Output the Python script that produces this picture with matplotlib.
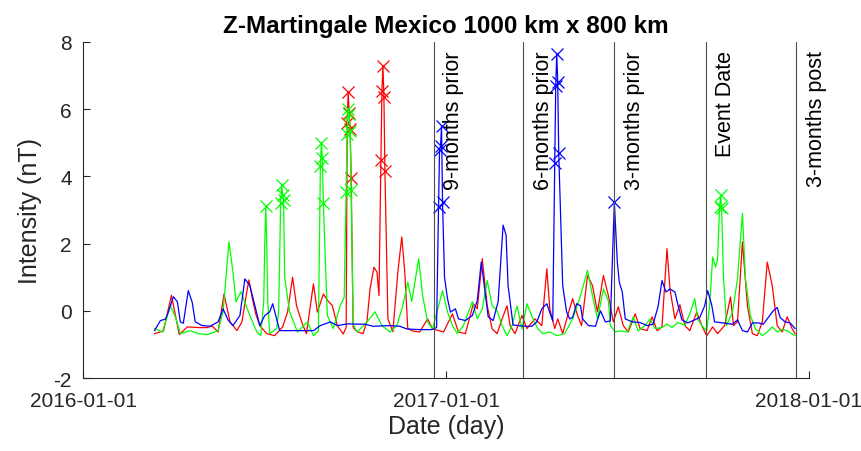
import numpy as np
import pandas as pd
import matplotlib
matplotlib.use('Agg')
import matplotlib.pyplot as plt
import matplotlib.dates as mdates

plt.rcParams['font.family'] = ['Liberation Sans', 'DejaVu Sans']
plt.rcParams['axes.unicode_minus'] = False

# day numbers counted from 2016-01-01, values in nT
startDate = pd.Timestamp('2016-01-01')
eventDate = pd.Timestamp('2017-09-19')
threshold = 3.0

redDay = [72, 81, 89, 97, 105, 118, 125, 130, 136, 142, 148, 155, 160, 164, 167,
          171, 174, 178, 185, 193, 201, 206, 211, 215, 221, 225, 232, 236, 242,
          247, 251, 256, 262, 265, 266, 267, 268, 269, 270, 272, 276, 282, 286,
          289, 293, 296, 298, 300, 301, 302, 303, 304, 307, 312, 317, 321, 324,
          327, 332, 339, 347, 352, 363, 372, 378, 385, 393, 397, 402, 407, 412,
          417, 422, 427, 430, 435, 442, 447, 455, 462, 467, 470, 475, 478, 483,
          488, 493, 498, 502, 508, 513, 518, 524, 529, 534, 539, 544, 549, 556,
          561, 568, 573, 578, 583, 588, 591, 596, 601, 606, 611, 618, 623, 628,
          634, 639, 646, 652, 655, 659, 664, 669, 674, 679, 684, 689, 694, 699,
          704, 709, 714, 717]
redVal = [-0.68, -0.6, 0.46, -0.71, -0.48, -0.5, -0.5, -0.45, -0.63, 0.5, -0.33,
          -0.59, -0.33, 0.4, 0.92, 0.3, -0.1, -0.44, -0.68, -0.74, -0.48, -0.04,
          1.0, 0.15, -0.4, -0.68, 0.8, -0.04, 0.5, 0.28, 0.16, -0.44, -0.69,
          -0.5, 5.6, 6.5, 5.9, 5.4, 3.95, -0.5, -0.62, -0.68, -0.3, 0.65, 1.3,
          1.15, 0.45, 4.5, 6.55, 7.3, 6.35, 4.15, -0.24, -0.62, 1.15, 2.2, 1.15,
          -0.53, -0.6, -0.63, -0.24, -0.54, -0.63, -0.09, -0.63, -0.68, 0.21,
          0.06, 1.55, 0.15, -0.54, -0.68, -0.24, 0.15, -0.44, -0.68, -0.14,
          -0.53, -0.24, -0.44, 1.25, 0.06, -0.53, -0.24, -0.68, -0.14, 0.36,
          -0.14, -0.44, 1.05, 0.75, -0.03, 1.05, 0.45, -0.33, 0.12, -0.44, -0.63,
          -0.09, -0.53, -0.59, -0.18, -0.59, -0.48, 1.85, 0.65, -0.24, 0.18,
          -0.44, -0.59, -0.04, -0.44, -0.74, -0.48, -0.68, -0.44, 0.41, -0.44,
          -0.33, 2.05, 0.15, -0.68, -0.74, -0.33, 1.45, 0.75, -0.44, -0.63,
          -0.18, -0.53, -0.68]

greenDay = [72, 80, 88, 93, 98, 108, 116, 125, 136, 141, 147, 151, 154, 159, 168,
            175, 179, 182, 183, 184, 185, 186, 188, 195, 197, 199, 200, 201, 202,
            203, 208, 216, 226, 232, 237, 239, 240, 241, 242, 246, 252, 259, 263,
            265, 266, 267, 268, 269, 270, 272, 276, 286, 294, 301, 309, 316, 322,
            327, 331, 338, 342, 347, 352, 362, 367, 372, 377, 383, 392, 397, 402,
            407, 412, 417, 422, 427, 432, 437, 442, 447, 453, 458, 463, 470, 477,
            485, 493, 500, 508, 513, 518, 524, 529, 531, 536, 541, 548, 554, 559,
            566, 571, 576, 583, 588, 593, 599, 606, 611, 616, 619, 623, 628, 631,
            634, 637, 639, 641, 642, 643, 645, 648, 654, 659, 664, 667, 672, 677,
            684, 689, 694, 699, 704, 709, 717]
greenVal = [-0.53, -0.63, 0.15, -0.18, -0.68, -0.59, -0.68, -0.71, -0.59, -0.03,
            2.05, 1.15, 0.27, 0.57, -0.14, -0.63, -0.74, 0.3, 2.0, 3.12, 2.0,
            0.3, -0.68, -0.53, 0.0, 3.2, 3.75, 3.45, 3.3, 1.0, -0.03, -0.63,
            -0.33, -0.74, -0.6, 4.3, 5.0, 4.55, 3.2, -0.14, -0.53, 0.15, 0.4,
            3.55, 5.25, 6.0, 5.85, 5.35, 3.6, -0.4, -0.63, -0.33, -0.03, -0.44,
            -0.63, -0.44, 0.15, 0.86, 0.27, 1.55, 0.45, -0.33, -0.54, 0.6, -0.03,
            -0.44, -0.68, -0.44, 0.27, -0.24, 0.06, 0.9, 0.15, 0.0, -0.44, -0.74,
            -0.44, 0.15, -0.54, 0.21, -0.24, -0.53, -0.68, -0.63, -0.74, -0.68,
            -0.24, 0.36, 1.2, 0.45, -0.24, 0.65, 0.3, -0.44, -0.63, -0.6, -0.63,
            -0.18, -0.6, -0.43, -0.24, -0.53, -0.5, -0.39, -0.5, -0.35, -0.43,
            -0.09, 0.36, -0.25, -0.44, -0.6, 0.15, 1.6, 1.3, 1.55, 3.1, 3.45,
            3.05, 0.95, -0.44, -0.04, 0.95, 2.9, 0.95, -0.14, -0.53, -0.74, -0.63,
            -0.48, -0.63, -0.55, -0.6, -0.74]

blueDay = [72, 78, 83, 86, 91, 95, 98, 101, 106, 110, 113, 120, 128, 136, 141,
           146, 151, 158, 163, 168, 173, 178, 183, 188, 191, 195, 198, 219, 232,
           239, 249, 256, 266, 284, 292, 309, 319, 326, 339, 351, 356, 358, 359,
           360, 361, 362, 364, 367, 370, 375, 378, 385, 392, 397, 401, 404, 408,
           413, 418, 423, 426, 428, 433, 438, 445, 452, 457, 462, 467, 473, 475,
           476, 477, 478, 479, 483, 487, 490, 493, 497, 501, 503, 509, 516, 521,
           526, 531, 535, 538, 540, 543, 546, 553, 561, 568, 574, 579, 583, 587,
           591, 596, 599, 603, 609, 616, 621, 626, 629, 633, 636, 644, 654, 659,
           664, 669, 674, 680, 685, 690, 695, 699, 702, 707, 712, 717]
blueVal = [-0.59, -0.29, -0.25, -0.03, 0.42, 0.27, -0.33, -0.37, 0.6, 0.25, -0.33,
           -0.44, -0.46, -0.33, 0.06, -0.27, -0.44, -0.14, 0.95, 0.75, 0.16,
           -0.44, -0.14, -0.03, 0.21, -0.25, -0.59, -0.59, -0.59, -0.44, -0.33,
           -0.44, -0.39, -0.4, -0.46, -0.44, -0.46, -0.54, -0.56, -0.56, -0.5,
           3.1, 4.8, 4.9, 5.5, 3.25, 1.0, 0.36, -0.04, 0.06, -0.24, -0.29, -0.14,
           0.3, 1.45, 0.75, -0.18, -0.29, 0.27, 2.55, 2.25, 0.75, -0.42, -0.44,
           -0.46, -0.46, -0.33, 0.06, 0.21, -0.3, 4.4, 6.7, 7.65, 6.8, 4.7, 0.75,
           -0.04, -0.24, -0.2, 0.21, 0.15, -0.24, -0.44, -0.46, 0.0, -0.33, -0.3,
           3.24, 1.45, 0.85, 0.56, -0.24, -0.33, -0.35, -0.44, -0.4, 0.12, 0.9,
           0.56, 0.65, 0.56, 0.18, -0.27, -0.36, -0.27, -0.2, 0.15, 0.6, 0.18,
           -0.33, -0.36, -0.4, -0.27, -0.59, -0.63, -0.36, -0.36, -0.4, -0.2, 0.0,
           0.1, -0.2, -0.33, -0.36, -0.53]

markMonths = [-9, -6, -3, 0, 3]
markNames = ['9-months prior', '6-months prior', '3-months prior', 'Event Date',
             '3-months post']
xTicks = ['2016-01-01', '2017-01-01', '2018-01-01']


def ToDates(days):
    return startDate + pd.to_timedelta(np.array(days), unit='D')


def PlotSeries(ax, days, vals, color):
    dates = ToDates(days)
    vals = np.array(vals)
    ax.plot(dates, vals, '-', color=color, lw=0.9)
    # flag the anomalies over the threshold
    high = vals > threshold
    ax.plot(dates[high], vals[high], 'x', color=color, ms=8, mew=0.9)


def main():
    fig = plt.figure(figsize=(8.62, 4.52), dpi=100)
    ax = fig.add_axes([0.0963, 0.1615, 0.8422, 0.7434])

    PlotSeries(ax, redDay, redVal, (1, 0, 0))
    PlotSeries(ax, greenDay, greenVal, (0, 1, 0))
    PlotSeries(ax, blueDay, blueVal, (0, 0, 1))

    for months, name in zip(markMonths, markNames):
        d = eventDate + pd.DateOffset(months=months)
        ax.axvline(d, color='0.3', lw=0.8)
        ax.annotate(name, xy=(d, 8), xytext=(7, -6), textcoords='offset points',
                    rotation=90, ha='left', va='top', fontsize=15.5)

    ax.set_xlim(pd.Timestamp(xTicks[0]), pd.Timestamp(xTicks[-1]))
    ax.set_ylim(-2, 8)
    ax.set_yticks([-2, 0, 2, 4, 6, 8])
    ax.set_xticks([pd.Timestamp(t) for t in xTicks])
    ax.xaxis.set_major_formatter(mdates.DateFormatter('%Y-%m-%d'))

    for side in ['top', 'right']:
        ax.spines[side].set_visible(False)
    for side in ['left', 'bottom']:
        ax.spines[side].set_color('0.15')
        ax.spines[side].set_linewidth(0.8)
    ax.tick_params(direction='in', length=5, width=0.8, colors='0.15',
                   labelsize=15, labelcolor='0.15')
    ax.tick_params(axis='x', pad=9)
    ax.tick_params(axis='y', pad=8)

    ax.set_xlabel('Date (day)', fontsize=18, color='0.15', labelpad=3)
    ax.set_ylabel('Intensity (nT)', fontsize=18, color='0.15', labelpad=8)
    ax.set_title('Z-Martingale Mexico 1000 km x 800 km', fontsize=17.5,
                 fontweight='bold', pad=7)

    fig.savefig('out.png', dpi=100)


if __name__ == '__main__':
    main()
